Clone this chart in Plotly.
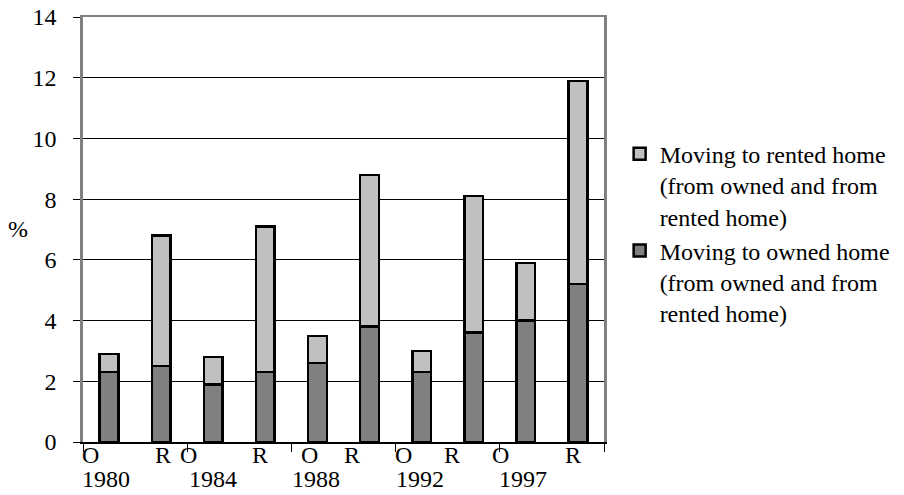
import plotly.graph_objects as go

# ---- data ----
bar_index = list(range(10))
bar_labels = ["O", "R", "O", "R", "O", "R", "O", "R", "O", "R"]
years = ["1980", "1984", "1988", "1992", "1997"]
owned = [2.3, 2.5, 1.9, 2.3, 2.6, 3.8, 2.3, 3.6, 4.0, 5.2]
rented = [0.6, 4.3, 0.9, 4.8, 0.9, 5.0, 0.7, 4.5, 1.9, 6.7]
y_ticks = [0, 2, 4, 6, 8, 10, 12, 14]

name_owned = "Moving to owned home<br>(from owned and from<br>rented home)"
name_rented = "Moving to rented home<br>(from owned and from<br>rented home)"

FONT = "Liberation Serif"
FS = 24

fig = go.Figure()
fig.add_trace(go.Bar(
    x=bar_index, y=owned, name=name_owned, width=0.36,
    marker=dict(color="#808080", line=dict(color="black", width=2.5)),
))
fig.add_trace(go.Bar(
    x=bar_index, y=rented, name=name_rented, width=0.36,
    marker=dict(color="#C0C0C0", line=dict(color="black", width=2.5)),
))

# label positions (in group units on the bottom axis, 0..5)
label_pos = [0.072, 0.766, 1.011, 1.695, 2.174, 2.586, 3.080, 3.544, 4.004, 4.703]
year_pos = [0.225, 1.25, 2.24, 3.235, 4.225]

annotations = []
for lab, p in zip(bar_labels, label_pos):
    annotations.append(dict(x=p, xref="x2", y=-0.031, yref="paper", text=lab,
                            showarrow=False, xanchor="center", yanchor="middle",
                            font=dict(family=FONT, size=FS, color="black")))
for yr, p in zip(years, year_pos):
    annotations.append(dict(x=p, xref="x2", y=-0.087, yref="paper", text=yr,
                            showarrow=False, xanchor="center", yanchor="middle",
                            font=dict(family=FONT, size=FS, color="black")))
annotations.append(dict(x=-0.125, xref="paper", y=0.501, yref="paper", text="%",
                        showarrow=False, xanchor="center", yanchor="middle",
                        font=dict(family=FONT, size=FS, color="black")))

fig.update_layout(
    barmode="stack",
    width=904, height=495,
    margin=dict(l=83, r=300, t=17, b=53, autoexpand=False),
    paper_bgcolor="white", plot_bgcolor="white",
    font=dict(family=FONT, size=FS, color="black"),
    showlegend=True,
    legend=dict(
        x=1.03, xanchor="left", y=0.73, yanchor="top",
        traceorder="reversed", valign="top",
        font=dict(family=FONT, size=FS, color="black"),
        bgcolor="rgba(0,0,0,0)",
    ),
    xaxis=dict(
        range=[-0.5, 9.5], side="top", automargin=False,
        showticklabels=False, ticks="", showgrid=False, zeroline=False,
        showline=True, linecolor="#808080", linewidth=2,
    ),
    xaxis2=dict(
        overlaying="x", anchor="y", side="bottom", range=[0, 5], automargin=False,
        tickvals=[0, 1, 2, 3, 4, 5], ticks="outside", ticklen=8,
        tickcolor="black", tickwidth=1, showticklabels=False,
        showgrid=False, zeroline=False,
        showline=True, linecolor="black", linewidth=1.5,
    ),
    yaxis=dict(
        range=[0, 14], tickvals=y_ticks, ticks="outside", ticklen=7,
        tickcolor="black", tickwidth=1, ticklabelstandoff=12, automargin=False,
        showgrid=True, gridcolor="black", gridwidth=1, zeroline=False,
        showline=True, mirror=True, linecolor="#808080", linewidth=2.5,
        tickfont=dict(family=FONT, size=FS, color="black"),
    ),
    annotations=annotations,
)

fig.write_html(
    "out.html",
    config={"displayModeBar": False},
    post_script="document.body.style.margin='0';document.body.style.padding='0';",
)
